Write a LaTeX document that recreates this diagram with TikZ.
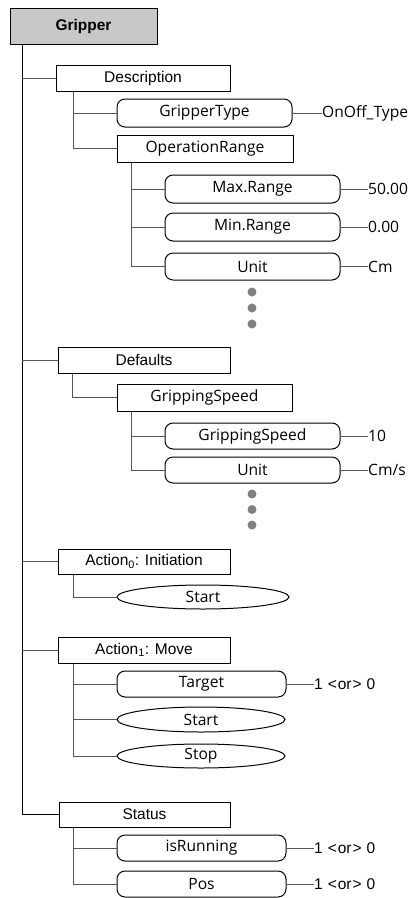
\documentclass[tikz,border=0pt]{standalone}
\usepackage{fontspec}
\setmainfont{Liberation Sans}
\newfontfamily\segf{Open Sans}
\usetikzlibrary{shapes.geometric}
\definecolor{grayfill}{RGB}{200,200,200}
\definecolor{conncol}{RGB}{85,85,85}
\definecolor{dotcol}{RGB}{128,128,128}
\newcommand{\orval}{1\hspace{5pt}<\hspace{1pt}or\hspace{1pt}>\hspace{5pt}0}
\tikzset{
  x=1pt,y=-1pt,
  base/.style={draw=black,line width=1pt,inner sep=0pt,font=\fontsize{15.5}{18}\selectfont},
  rootbox/.style={base,fill=grayfill,minimum width=147pt,minimum height=36pt,font=\fontsize{15.5}{18}\selectfont\bfseries},
  sqbox/.style={base,minimum height=26pt},
  segtext/.style={font=\segf\fontsize{15.6}{18}\selectfont},
  rbox/.style={base,rounded corners=8pt,minimum height=27pt,segtext},
  ebox/.style={base,ellipse,minimum height=24pt,segtext},
  valtxt/.style={inner sep=0pt,anchor=west,segtext},
  valtxtb/.style={inner sep=0pt,anchor=west,font=\fontsize{15.5}{18}\selectfont},
  spine/.style={draw=black,line width=0.9pt},
  conn/.style={draw=conncol,line width=0.9pt},
  dotn/.style={circle,fill=dotcol,inner sep=0pt,minimum size=9pt},
}
\begin{document}
\begin{tikzpicture}
\useasboundingbox (0,0) rectangle (416,898);

% root
\node[rootbox] (grip) at (83.5,26) {Gripper};
\coordinate (sp) at (22,44);
\coordinate (spend) at (22,814.5);

% Description
\node[sqbox,minimum width=174pt] (desc) at (143,78) {Description};
\node[rbox,minimum width=175pt,minimum height=28pt] (gtype) at (204.5,113) {GripperType};
\node[valtxt] (gtypev) at (322,113) {OnOff\_Type};
\node[sqbox,segtext,minimum width=176pt,minimum height=27pt] (oprange) at (205,148.5) {OperationRange};
\node[rbox,minimum width=175pt,minimum height=28pt] (maxr) at (252.5,189) {Max.Range};
\node[valtxt] (maxrv) at (368,189) {50.00};
\node[rbox,minimum width=175pt,minimum height=28pt] (minr) at (252.5,227) {Min.Range};
\node[valtxt] (minrv) at (368,227) {0.00};
\node[rbox,minimum width=175pt] (unit1) at (252.5,266.5) {Unit};
\node[valtxt] (unit1v) at (368,266.5) {Cm};
\node[dotn] (d1a) at (252,292) {};
\node[dotn] (d1b) at (252,308) {};
\node[dotn] (d1c) at (252,324) {};

% Defaults
\node[sqbox,minimum width=172pt] (defs) at (144,360) {Defaults};
\node[sqbox,segtext,minimum width=175pt,minimum height=27pt] (gspeed) at (204.5,397.5) {GrippingSpeed};
\node[rbox,minimum width=175pt,minimum height=26pt] (gspeedv) at (252.5,436) {GrippingSpeed};
\node[valtxt] (gspeedvv) at (368,436) {10};
\node[rbox,minimum width=175pt,minimum height=26pt] (unit2) at (252.5,470) {Unit};
\node[valtxt] (unit2v) at (368,470) {Cm/s};
\node[dotn] (d2a) at (252,494) {};
\node[dotn] (d2b) at (252,509.5) {};
\node[dotn] (d2c) at (252,525) {};

% Action0
\node[sqbox,minimum width=172pt,minimum height=25pt] (act0) at (144,561.5) {Action\textsubscript{0}: Initiation};
\node[ebox,minimum width=172pt] (start0) at (203,597) {Start};

% Action1
\node[sqbox,minimum width=172pt] (act1) at (144,650) {Action\textsubscript{1}: Move};
\node[rbox,minimum width=169pt,minimum height=26pt] (target) at (201.5,684) {Target};
\node[valtxtb] (targetv) at (314,684) {\orval};
\node[ebox,minimum width=168pt,minimum height=25pt] (start1) at (201,719.5) {Start};
\node[ebox,minimum width=168pt] (stop1) at (201,756) {Stop};

% Status
\node[sqbox,minimum width=171pt,minimum height=25pt] (status) at (144.5,814.5) {Status};
\node[rbox,minimum width=169pt,minimum height=26pt] (isrun) at (201.5,848) {isRunning};
\node[valtxtb] (isrunv) at (314,848) {\orval};
\node[rbox,minimum width=169pt,minimum height=26pt] (pos) at (201.5,884) {Pos};
\node[valtxtb] (posv) at (314,884) {\orval};

% main spine
\draw[spine] (sp) -- (spend);
\draw[conn] (sp |- desc) -- (desc.west);
\draw[conn] (sp |- defs) -- (defs.west);
\draw[conn] (sp |- act0) -- (act0.west);
\draw[conn] (sp |- act1) -- (act1.west);
\draw[spine] (spend) -- (status.west);

% Description children
\draw[conn] ([xshift=-70pt]desc.south) |- (gtype.west);
\draw[conn] ([xshift=-70pt]desc.south) |- (oprange.west);
\draw[conn] (gtype.east) -- (gtypev.west);
\draw[conn] ([xshift=-74pt]oprange.south) |- (maxr.west);
\draw[conn] ([xshift=-74pt]oprange.south) |- (minr.west);
\draw[conn] ([xshift=-74pt]oprange.south) |- (unit1.west);
\draw[conn] (maxr.east) -- (maxrv.west);
\draw[conn] (minr.east) -- (minrv.west);
\draw[conn] (unit1.east) -- (unit1v.west);

% Defaults children
\draw[conn] ([xshift=-72pt]defs.south) |- (gspeed.west);
\draw[conn] ([xshift=-73.5pt]gspeed.south) |- (gspeedv.west);
\draw[conn] ([xshift=-73.5pt]gspeed.south) |- (unit2.west);
\draw[conn] (gspeedv.east) -- (gspeedvv.west);
\draw[conn] (unit2.east) -- (unit2v.west);

% Action0 children
\draw[conn] ([xshift=-71pt]act0.south) |- (start0.west);

% Action1 children
\draw[conn] ([xshift=-71pt]act1.south) |- (target.west);
\draw[conn] ([xshift=-71pt]act1.south) |- (start1.west);
\draw[conn] ([xshift=-71pt]act1.south) |- (stop1.west);
\draw[conn] (target.east) -- (targetv.west);

% Status children
\draw[conn] ([xshift=-71.5pt]status.south) |- (isrun.west);
\draw[conn] ([xshift=-71.5pt]status.south) |- (pos.west);
\draw[conn] (isrun.east) -- (isrunv.west);
\draw[conn] (pos.east) -- (posv.west);
\end{tikzpicture}
\end{document}
